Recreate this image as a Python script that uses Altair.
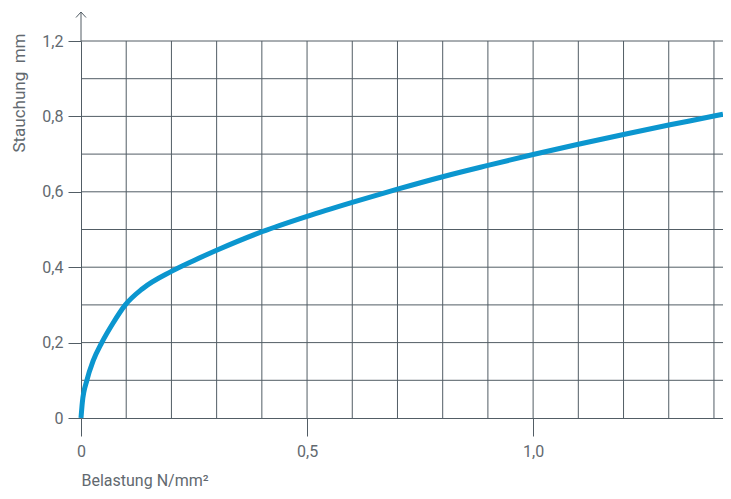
import altair as alt
import pandas as pd

# Load (N/mm²) and compression (mm)
load = [0, 0.003, 0.013, 0.027, 0.046, 0.07, 0.098, 0.136, 0.2, 0.25, 0.3,
        0.4, 0.5, 0.6, 0.7, 0.8, 0.9, 1.0, 1.1, 1.2, 1.3, 1.4, 1.42]
compression = [0, 0.042, 0.1, 0.152, 0.2, 0.25, 0.3, 0.343, 0.389, 0.418, 0.445,
               0.494, 0.535, 0.572, 0.607, 0.640, 0.670, 0.699, 0.726, 0.752, 0.777, 0.801, 0.806]

x_grid = [0.1, 0.2, 0.3, 0.4, 0.5, 0.6, 0.7, 0.8, 0.9, 1.0, 1.1, 1.2, 1.3, 1.4]
y_grid = [0.1, 0.2, 0.3, 0.4, 0.5, 0.6, 0.7, 0.8, 0.9, 1.0]

x_tick_values = [0, 0.5, 1.0]
x_tick_labels = ["0", "0,5", "1,0"]
y_tick_values = [0, 0.2, 0.4, 0.6, 0.8, 1.0]
y_tick_labels = ["0", "0,2", "0,4", "0,6", "0,8", "1,2"]

GRID = "#525d65"
TEXT = "#62696f"
BLUE = "#0b96cf"
FONT = "Roboto"


def label_expr(vals, labels):
    expr = "''"
    for v, l in reversed(list(zip(vals, labels))):
        expr = f"abs(datum.value - {v}) < 1e-6 ? '{l}' : ({expr})"
    return expr


xs = alt.Scale(domain=[0, 1.42], nice=False, zero=False)
ys = alt.Scale(domain=[0, 1.0], nice=False, zero=False)

x_axis = alt.Axis(
    values=x_tick_values, labelExpr=label_expr(x_tick_values, x_tick_labels),
    grid=False, domain=True, domainColor=GRID, domainWidth=1,
    ticks=True, tickColor=GRID, tickSize=18, tickWidth=1,
    labelPadding=7, labelFont=FONT, labelFontSize=16, labelColor=TEXT,
    labelFlush=False,
    title="Belastung N/mm²", titleFont=FONT, titleFontSize=16,
    titleFontWeight="normal", titleColor=TEXT,
    titleAnchor="start", titleAlign="left", titleX=0, titleY=67,
    titleBaseline="alphabetic",
)
y_axis = alt.Axis(
    values=y_tick_values, labelExpr=label_expr(y_tick_values, y_tick_labels),
    grid=False, domain=True, domainColor=GRID, domainWidth=1,
    ticks=True, tickColor=GRID, tickSize=13, tickWidth=1,
    labelPadding=5, labelFont=FONT, labelFontSize=16, labelColor=TEXT,
    title="Stauchung\u00a0\u00a0mm", titleFont=FONT, titleFontSize=17,
    titleFontWeight="normal", titleColor=TEXT,
    titleAngle=270, titleAlign="right", titleBaseline="middle",
    titleX=-62, titleY=-8,
)

X = alt.X("load:Q", scale=xs, axis=x_axis)
Y = alt.Y("compression:Q", scale=ys, axis=y_axis)

vgrid = alt.Chart(pd.DataFrame({"load": x_grid})).mark_rule(
    color=GRID, strokeWidth=1).encode(x=X)
hgrid = alt.Chart(pd.DataFrame({"compression": y_grid})).mark_rule(
    color=GRID, strokeWidth=1).encode(y=Y)

curve = alt.Chart(pd.DataFrame({"load": load, "compression": compression})).mark_line(
    color=BLUE, strokeWidth=5, interpolate="monotone").encode(x=X, y=Y)

arrow_shaft = alt.Chart(pd.DataFrame({"a": [0]})).mark_rule(
    color=GRID, strokeWidth=1).encode(x=alt.value(0), y=alt.value(-29), y2=alt.value(0))
arrow_head = alt.Chart(pd.DataFrame({"a": [0]})).mark_point(
    shape="M-1,1.1L0,0L1,1.1", filled=False, size=100, color=GRID,
    strokeWidth=1, opacity=1).encode(x=alt.value(0), y=alt.value(-29))

chart = alt.layer(vgrid, hgrid, curve, arrow_shaft, arrow_head).properties(
    width=642, height=377,
    autosize=alt.AutoSizeParams(type="none"),
    padding={"left": 73, "top": 33, "right": 0, "bottom": 73},
    background="white",
).configure_view(stroke=None)

chart.save("out.html", embed_options={"renderer": "svg", "actions": False})
